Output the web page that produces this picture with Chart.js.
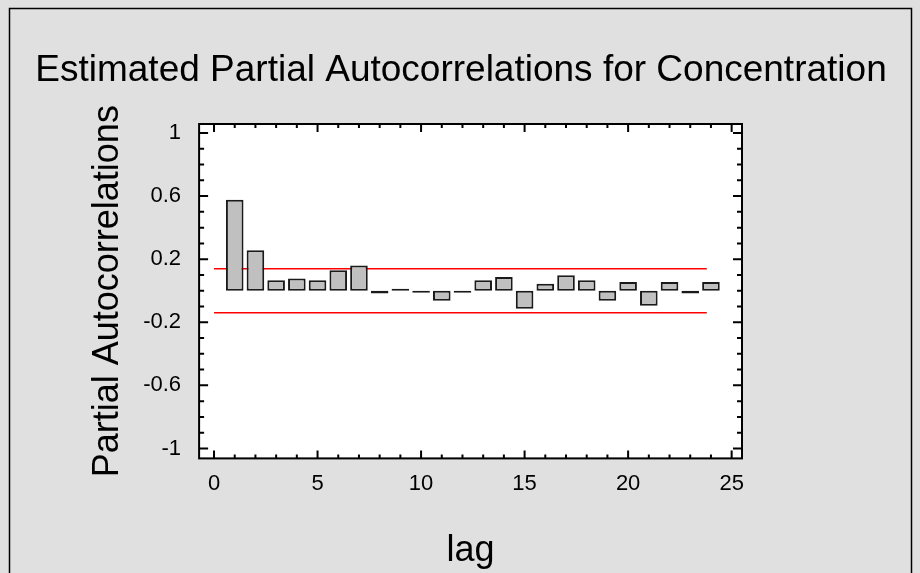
<!DOCTYPE html>
<html><head><meta charset="utf-8">
<script src="https://cdn.jsdelivr.net/npm/chart.js@4"></script>
<style>html,body{margin:0;padding:0;background:#e0e0e0}#w{width:920px;height:573px}</style>
</head><body><div id="w"><canvas id="c" width="920" height="573"></canvas></div>
<script>
const lags=[1,2,3,4,5,6,7,8,9,10,11,12,13,14,15,16,17,18,19,20,21,22,23,24];
const pacf=[0.577,0.257,0.066,0.077,0.066,0.13,0.16,-0.017,0.01,-0.004,-0.064,-0.004,0.066,0.087,-0.115,0.045,0.098,0.066,-0.064,0.055,-0.096,0.055,-0.017,0.055];
const limit=0.139;
const limitX=[0.0,23.8];
const yTicks=[1,0.6,0.2,-0.2,-0.6,-1];
const xTicks=[0,5,10,15,20,25];
const titleText='Estimated Partial Autocorrelations for Concentration';

const deco={id:'deco',
 beforeDraw(ch){const c=ch.ctx;c.save();c.fillStyle='#e0e0e0';c.fillRect(0,0,920,573);
  c.strokeStyle='#000';c.lineWidth=1.5;c.strokeRect(9.5,8.5,902,600);
  const a=ch.chartArea;c.fillStyle='#fff';c.fillRect(a.left,a.top,a.right-a.left,a.bottom-a.top);
  c.fillStyle='#000';c.font='37px "Liberation Sans", Arial, sans-serif';c.textAlign='center';c.textBaseline='middle';
  c.fillText(titleText,461,71);c.restore();},
 afterDraw(ch){const c=ch.ctx,a=ch.chartArea,x=ch.scales.x,y=ch.scales.y;c.save();c.strokeStyle='#000';c.lineWidth=2;
  c.strokeRect(a.left,a.top,a.right-a.left,a.bottom-a.top);
  for(let k=-10;k<=10;k++){const v=k/10;const py=y.getPixelForValue(v);const maj=(k+10)%4===0;const L=maj?9:5;
   c.beginPath();c.moveTo(a.left,py);c.lineTo(a.left+L,py);c.moveTo(a.right,py);c.lineTo(a.right-L,py);c.stroke();}
  for(let v=0;v<=25;v+=1){const px=x.getPixelForValue(v);const maj=v%5===0;const L=maj?8:4;
   c.beginPath();c.moveTo(px,a.bottom);c.lineTo(px,a.bottom-L);c.moveTo(px,a.top);c.lineTo(px,a.top+L);c.stroke();}
  c.restore();}};

new Chart(document.getElementById('c'),{
 data:{datasets:[
  {type:'bar',data:lags.map((l,i)=>({x:l,y:pacf[i]})),backgroundColor:'#c0c0c0',borderColor:'#1a1a1a',borderWidth:2,borderSkipped:false,barPercentage:0.85,categoryPercentage:1,minBarLength:2},
  {type:'line',data:[{x:limitX[0],y:limit},{x:limitX[1],y:limit}],borderColor:'#ff0000',borderWidth:1.5,pointRadius:0},
  {type:'line',data:[{x:limitX[0],y:-limit},{x:limitX[1],y:-limit}],borderColor:'#ff0000',borderWidth:1.5,pointRadius:0}
 ]},
 options:{responsive:false,animation:false,devicePixelRatio:1,
  layout:{padding:{left:82,right:178,top:124,bottom:0}},
  plugins:{legend:{display:false},tooltip:{enabled:false},title:{display:false}},
  scales:{
   x:{type:'linear',offset:false,min:-0.72,max:25.5,grid:{display:false},border:{display:false},
    afterBuildTicks(s){s.ticks=xTicks.map(v=>({value:v}));},
    ticks:{color:'#000',font:{family:'Liberation Sans',size:22},padding:4,maxRotation:0},
    title:{display:true,text:'lag',color:'#000',font:{family:'Liberation Sans',size:36},padding:{top:29,bottom:0}}},
   y:{min:-1.063,max:1.057,grid:{display:false},border:{display:false},
    afterBuildTicks(s){s.ticks=yTicks.map(v=>({value:v}));},
    ticks:{color:'#000',font:{family:'Liberation Sans',size:22},padding:10,callback:v=>String(v)},
    title:{display:true,text:'Partial Autocorrelations',color:'#000',font:{family:'Liberation Sans',size:36},padding:{bottom:4}}}
  }},
 plugins:[deco]});
</script></body></html>
